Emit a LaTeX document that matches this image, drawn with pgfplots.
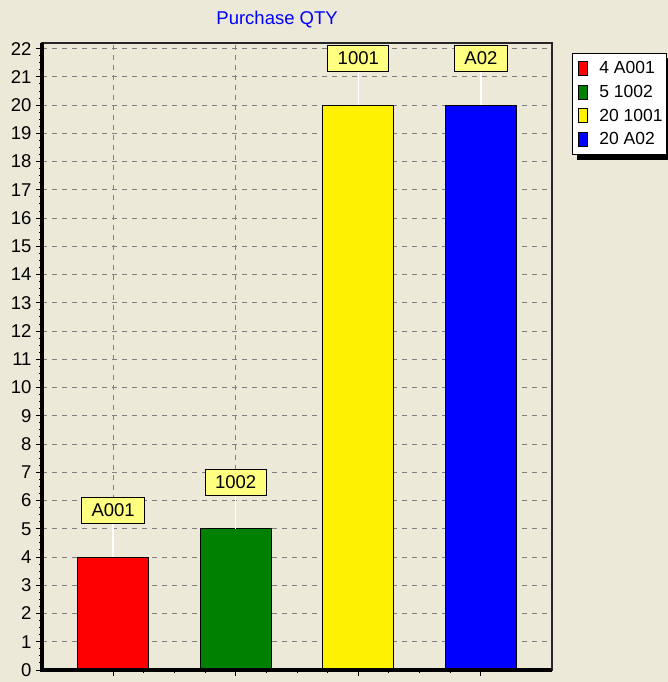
\documentclass[border=0pt]{standalone}
\usepackage{fontspec}
\setmainfont{Liberation Sans}
\usepackage{pgfplots}
\pgfplotsset{compat=1.18}
\usetikzlibrary{backgrounds}
\definecolor{bg}{HTML}{ECE9D8}
\definecolor{lblyel}{HTML}{FFFF80}
\definecolor{grn}{HTML}{008000}
\newcommand{\cf}{\fontsize{18.5bp}{21bp}\selectfont}
\newcommand{\lf}{\fontsize{17.5bp}{20bp}\selectfont}
\begin{document}
\begin{tikzpicture}
\begin{axis}[
  name=ax,
  scale only axis, width=510bp, height=627bp,
  xmin=-0.58, xmax=3.58, ymin=0, ymax=22.2,
  xtick={0,1,2,3}, xticklabels={}, minor x tick num=3,
  ytick={0,1,...,22}, minor y tick num=3,
  tick align=outside, xtick pos=bottom, ytick pos=left,
  major tick length=6bp, minor tick length=3bp,
  tick style={black, line width=1bp},
  grid=major,
  major grid style={black!50, line width=1bp, dash pattern=on 5bp off 5bp},
  axis line style={line width=1.5bp, black!85},
  axis background/.style={fill=bg},
  /pgf/number format/assume math mode=true,
  ticklabel style={font=\cf},
  yticklabel style={xshift=-1bp},
  title={Purchase QTY},
  title style={text=blue, font=\cf, anchor=base, at={(axis description cs:0.461,1)}, yshift=13bp},
  ybar, bar width=71bp, bar shift=0pt,
  every node near coord/.append style={anchor=south, yshift=33bp, draw=black, line width=1bp, fill=lblyel, text=black, inner xsep=10bp, inner ysep=0pt, minimum height=26bp, font=\cf},
  legend style={name=leg, at={(axis description cs:1.039,0.984)}, anchor=north west, draw=black, line width=1bp, fill=white,
    font=\lf, row sep=6bp, inner xsep=3bp, inner ysep=6bp, nodes={inner xsep=1bp}},
  legend cell align=left,
  legend image code/.code={\draw[#1, draw=black, line width=1bp] (3bp,-7bp) rectangle (12bp,7bp); \path (0bp,0bp) (22bp,0bp);},
]
\addplot[fill=red, draw=black, line width=1bp, nodes near coords={A001},
  error bars/.cd, y dir=plus, y fixed=1.17, error mark=none, error bar style={white, solid, line width=1.5bp}]
  coordinates {(0,4)};
\addlegendentry{4 A001}
\addplot[fill=grn, draw=black, line width=1bp, nodes near coords={1002},
  error bars/.cd, y dir=plus, y fixed=1.17, error mark=none, error bar style={white, solid, line width=1.5bp}]
  coordinates {(1,5)};
\addlegendentry{5 1002}
\addplot[fill=yellow, draw=black, line width=1bp, nodes near coords={1001},
  error bars/.cd, y dir=plus, y fixed=1.17, error mark=none, error bar style={white, solid, line width=1.5bp}]
  coordinates {(2,20)};
\addlegendentry{20 1001}
\addplot[fill=blue, draw=black, line width=1bp, nodes near coords={A02},
  error bars/.cd, y dir=plus, y fixed=1.17, error mark=none, error bar style={white, solid, line width=1.5bp}]
  coordinates {(3,20)};
\addlegendentry{20 A02}
\end{axis}
\draw[line width=3bp, black] (ax.north west) -- (ax.south west) -- (ax.south east);
\begin{pgfonlayer}{background}
\fill[bg] ([shift={(-42bp,-12bp)}]ax.south west) rectangle ++(668bp,682bp);
\fill[black] ([shift={(5bp,-5bp)}]leg.south west) rectangle ([shift={(5bp,-5bp)}]leg.north east);
\end{pgfonlayer}
\pgfresetboundingbox
\path ([shift={(-42bp,-12bp)}]ax.south west) rectangle ++(668bp,682bp);
\end{tikzpicture}
\end{document}
